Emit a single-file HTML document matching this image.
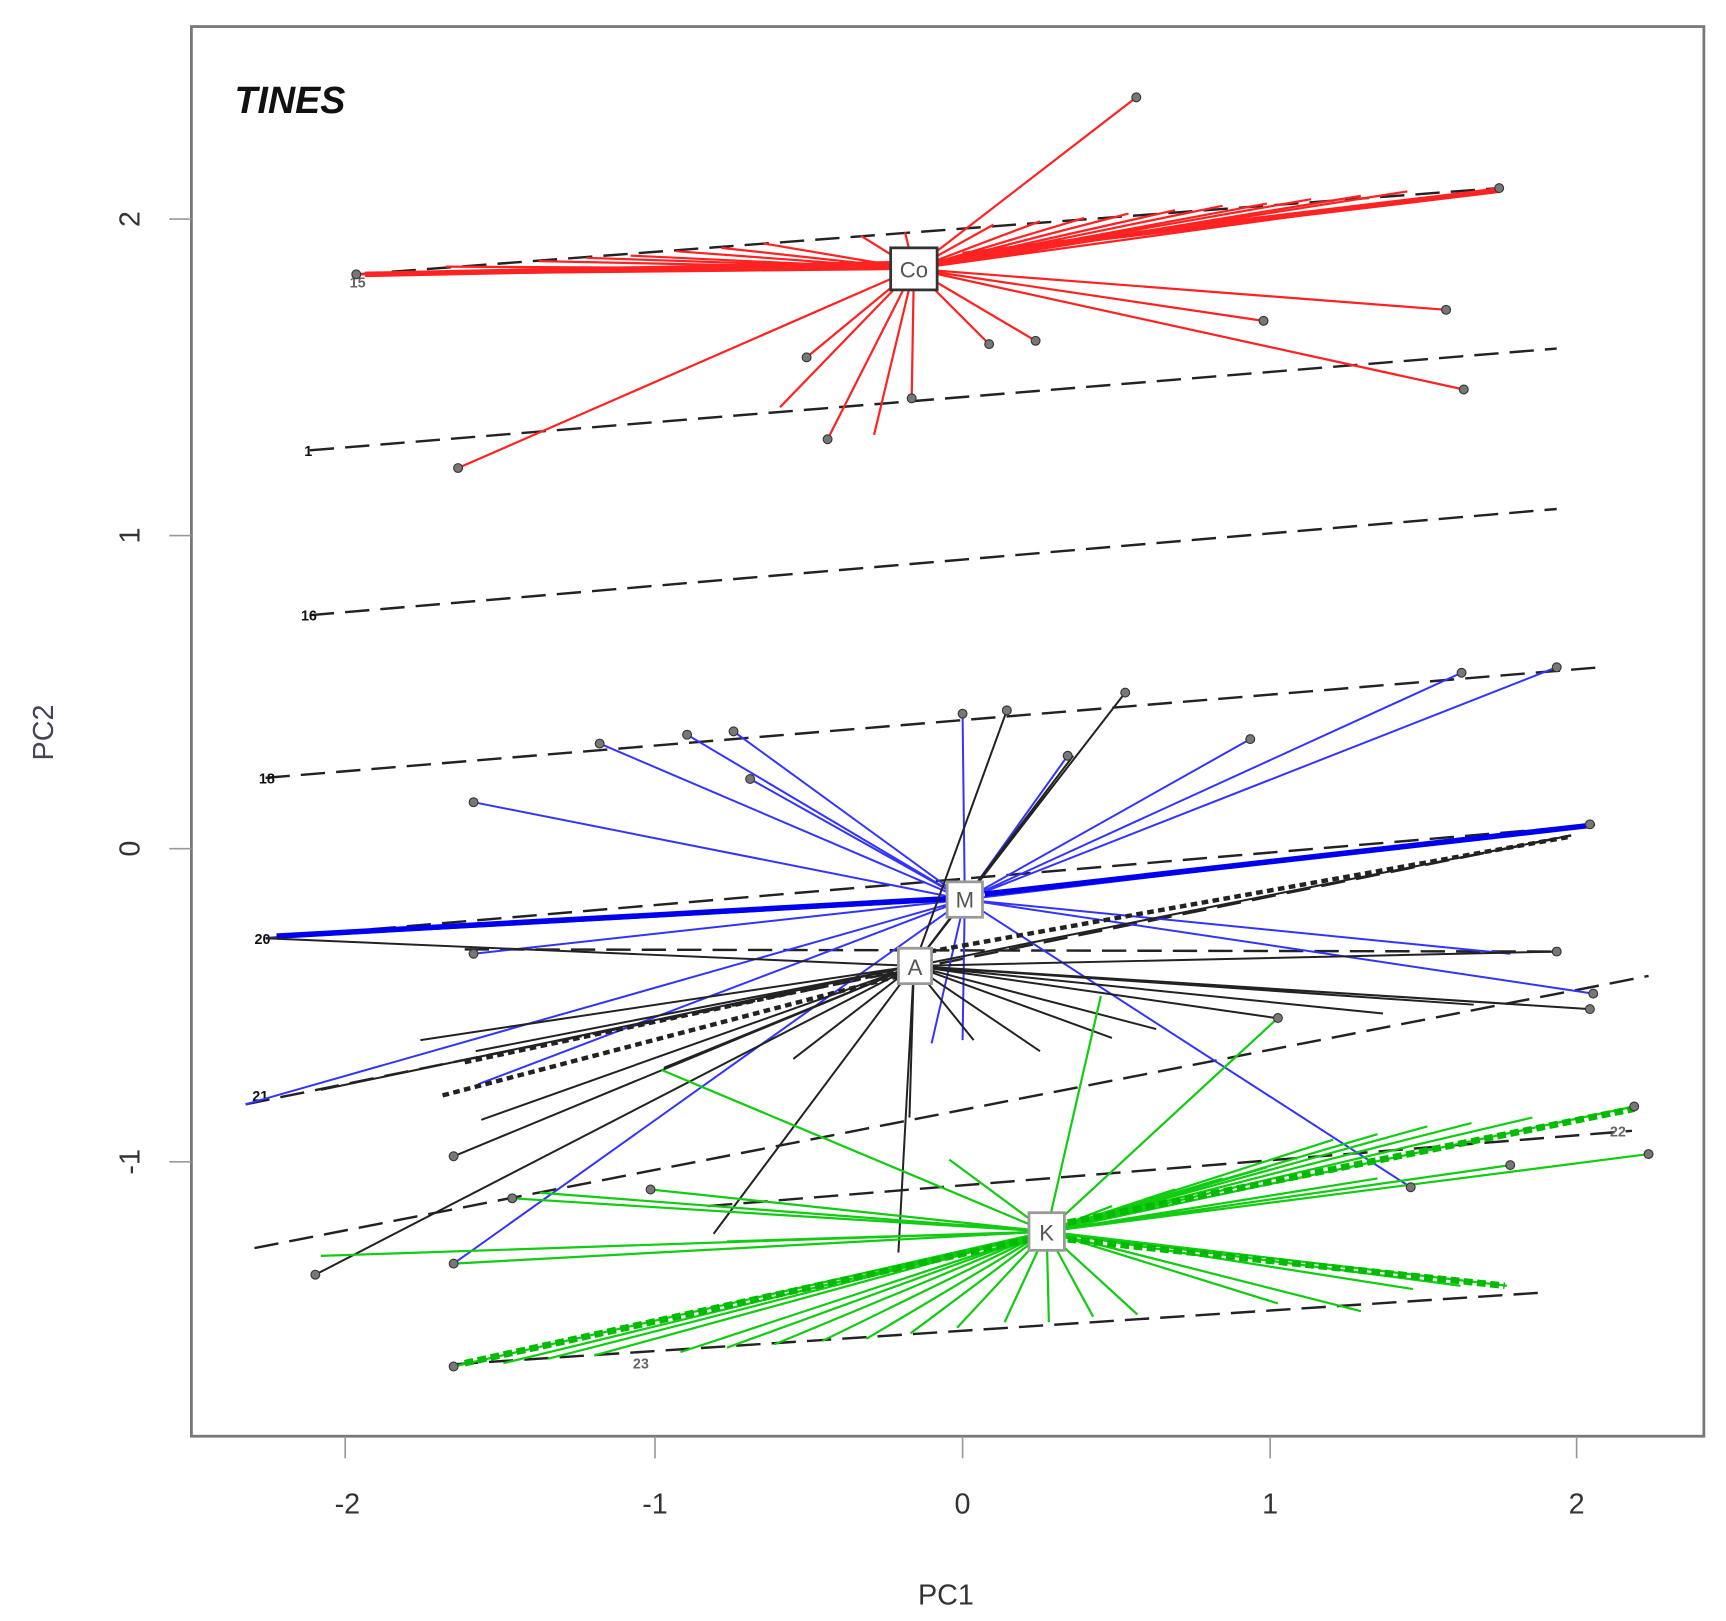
<!DOCTYPE html>
<html><head><meta charset="utf-8"><style>
html,body{margin:0;padding:0;background:#fff;}
svg{display:block}
</style></head><body>
<svg width="1726" height="1621" viewBox="0 0 1560 1465" preserveAspectRatio="none" xmlns="http://www.w3.org/2000/svg" font-family="Liberation Sans, sans-serif">
<rect width="1560" height="1465" fill="#fff"/>
<!-- black reference lines -->
<g stroke="#222" stroke-width="2.2" stroke-dasharray="22,10" fill="none">
<line x1="322" y1="248" x2="1355" y2="170"/>
<line x1="280" y1="407" x2="1407" y2="315"/>
<line x1="280" y1="556" x2="1407" y2="460"/>
<line x1="240" y1="703" x2="1447" y2="603"/>
<line x1="240" y1="848" x2="1447" y2="745"/>
<line x1="222" y1="998" x2="1420" y2="755"/>
<line x1="230" y1="1128" x2="1490" y2="882"/>
<line x1="410" y1="1233" x2="1397" y2="1168"/>
<line x1="420" y1="858" x2="1407" y2="860"/>
<line x1="640" y1="1090" x2="1475" y2="1022"/>
</g>
<g fill="#111" font-size="13" font-weight="bold">
<text x="275" y="412">1</text><text x="272" y="561">16</text><text x="234" y="708">18</text><text x="230" y="853">20</text><text x="228" y="995">21</text><text x="572" y="1237" fill="#666">23</text><text x="1455" y="1027" fill="#666">22</text><text x="316" y="260" fill="#666">15</text>
</g>
<!-- red -->
<g stroke="#f22" stroke-width="2" fill="none">
<path d="M826 243L1027 88M826 243L898 203M826 243L940 200M826 243L980 197M826 243L1020 193M826 243L1062 190M826 243L1105 186M826 243L1145 184M826 243L1185 180M826 243L1230 177M826 243L1272 173M826 243L1355 170M826 243L322 248M826 243L362 246M826 243L403 241M826 243L487 236M826 243L530 233M826 243L570 231M826 243L611 227M826 243L652 224M826 243L690 220M826 243L778 213M826 243L818 210M826 243L1307 280M826 243L1142 290M826 243L1323 352M826 243L894 311M826 243L936 308M826 243L729 323M826 243L705 368M826 243L748 397M826 243L790 393M826 243L824 360M826 243L414 423"/>
<path stroke-width="5" d="M330 248L826 238M870 230L1355 172"/>
</g>
<!-- blue -->
<g stroke="#33f" stroke-width="1.8" fill="none">
<path d="M872 813L870 645M872 813L965 683M872 813L1130 668M872 813L1321 608M872 813L1407 603M872 813L542 672M872 813L621 664M872 813L663 661M872 813L678 704M872 813L428 725M872 813L1437 745M872 813L1365 862M872 813L1440 898M872 813L1275 1073M872 813L428 862M872 813L222 998M872 813L432 980M872 813L410 1142M872 813L870 940M872 813L842 943M872 813L240 848"/>
<path stroke="#00e" stroke-width="5" d="M250 846L860 812M890 808L1437 746"/>
</g>
<!-- black group -->
<g stroke="#222" stroke-width="1.8" fill="none">
<path d="M826 873L1407 860M826 873L1437 912M826 873L1377 908M826 873L1332 908M826 873L1250 916M826 873L1153 920M826 873L1045 930M826 873L1005 938M826 873L940 950M826 873L880 940M826 873L717 957M826 873L600 965M826 873L290 985M826 873L380 940M826 873L430 950M826 873L435 1012M826 873L410 1045M826 873L285 1152M826 873L645 1115M826 873L822 1010M826 873L812 1132M826 873L970 683M826 873L1017 626M826 873L910 642M826 873L1420 755M826 873L240 848"/>
<path stroke-width="4" stroke-dasharray="6,4" d="M840 860L1420 756M420 960L820 875M400 990L820 880"/>
</g>
<!-- green -->
<g stroke="#1c1" stroke-width="2" fill="none">
<path d="M946 1113L1005 1090M946 1113L1062 1075M946 1113L1105 1065M946 1113L1145 1055M946 1113L1205 1030M946 1113L1245 1025M946 1113L1290 1018M946 1113L1330 1015M946 1113L1385 1010M946 1113L1477 1000M946 1113L1490 1043M946 1113L1365 1053M946 1113L1245 1065M946 1113L1155 920M946 1113L995 900M946 1113L1362 1162M946 1113L1320 1162M946 1113L1277 1165M946 1113L1230 1185M946 1113L1155 1178M946 1113L1028 1188M946 1113L988 1190M946 1113L948 1195M946 1113L908 1195M946 1113L865 1200M946 1113L823 1205M946 1113L783 1210M946 1113L743 1212M946 1113L700 1215M946 1113L657 1218M946 1113L615 1222M946 1113L537 1225M946 1113L495 1228M946 1113L455 1232M946 1113L410 1235M946 1113L290 1135M946 1113L410 1142M946 1113L463 1083M946 1113L488 1078M946 1113L588 1075M946 1113L657 1122M946 1113L858 1048M946 1113L598 967"/>
<path stroke="#0b0" stroke-width="6" stroke-dasharray="8,4" d="M420 1232L930 1120M965 1105L1477 1002M965 1120L1360 1162"/>
</g>
<!-- points -->
<g fill="#777" stroke="#333" stroke-width="1">
<circle cx="1027" cy="88" r="4"/><circle cx="1355" cy="170" r="4"/><circle cx="322" cy="248" r="4"/><circle cx="1307" cy="280" r="4"/><circle cx="1142" cy="290" r="4"/><circle cx="1323" cy="352" r="4"/><circle cx="894" cy="311" r="4"/><circle cx="936" cy="308" r="4"/><circle cx="729" cy="323" r="4"/><circle cx="748" cy="397" r="4"/><circle cx="824" cy="360" r="4"/><circle cx="414" cy="423" r="4"/>
<circle cx="870" cy="645" r="4"/><circle cx="910" cy="642" r="4"/><circle cx="1017" cy="626" r="4"/><circle cx="965" cy="683" r="4"/><circle cx="1130" cy="668" r="4"/><circle cx="1321" cy="608" r="4"/><circle cx="1407" cy="603" r="4"/><circle cx="542" cy="672" r="4"/><circle cx="621" cy="664" r="4"/><circle cx="663" cy="661" r="4"/><circle cx="678" cy="704" r="4"/><circle cx="428" cy="725" r="4"/><circle cx="1437" cy="745" r="4"/><circle cx="1440" cy="898" r="4"/><circle cx="1275" cy="1073" r="4"/><circle cx="428" cy="862" r="4"/><circle cx="410" cy="1142" r="4"/><circle cx="1407" cy="860" r="4"/><circle cx="1437" cy="912" r="4"/><circle cx="410" cy="1045" r="4"/><circle cx="285" cy="1152" r="4"/><circle cx="1477" cy="1000" r="4"/><circle cx="1490" cy="1043" r="4"/><circle cx="1365" cy="1053" r="4"/><circle cx="410" cy="1235" r="4"/><circle cx="463" cy="1083" r="4"/><circle cx="588" cy="1075" r="4"/><circle cx="1155" cy="920" r="4"/>
</g>
<!-- centroid boxes -->
<g fill="#fff" stroke="#333" stroke-width="2.5">
<rect x="805" y="224" width="42" height="38"/>
<rect x="856" y="797" width="32" height="32" stroke="#999"/>
<rect x="812" y="857" width="30" height="32" stroke="#999"/>
<rect x="930" y="1096" width="32" height="34" stroke="#999"/>
</g>
<g font-size="20" fill="#555" text-anchor="middle">
<text x="826" y="251">Co</text><text x="872" y="820">M</text><text x="827" y="881">A</text><text x="946" y="1121">K</text>
</g>
<!-- frame -->
<rect x="173" y="24" width="1367" height="1274" fill="none" stroke="#777" stroke-width="2.5"/>
<g stroke="#999" stroke-width="1.5">
<line x1="312" y1="1298" x2="312" y2="1318"/><line x1="592" y1="1298" x2="592" y2="1318"/><line x1="870" y1="1298" x2="870" y2="1318"/><line x1="1148" y1="1298" x2="1148" y2="1318"/><line x1="1425" y1="1298" x2="1425" y2="1318"/>
<line x1="153" y1="198" x2="173" y2="198"/><line x1="153" y1="484" x2="173" y2="484"/><line x1="153" y1="767" x2="173" y2="767"/><line x1="153" y1="1050" x2="173" y2="1050"/>
</g>
<g font-size="26" fill="#333" text-anchor="middle">
<text x="314" y="1368">-2</text><text x="592" y="1368">-1</text><text x="870" y="1368">0</text><text x="1148" y="1368">1</text><text x="1425" y="1368">2</text>
<text x="855" y="1450">PC1</text>
<text transform="translate(126,198) rotate(-90)">2</text>
<text transform="translate(126,484) rotate(-90)">1</text>
<text transform="translate(126,767) rotate(-90)">0</text>
<text transform="translate(126,1050) rotate(-90)">-1</text>
<text transform="translate(48,662) rotate(-90)" fill="#445">PC2</text>
</g>
<text x="212" y="102" font-size="34" font-weight="bold" font-style="italic" fill="#111">TINES</text>
</svg>
</body></html>
